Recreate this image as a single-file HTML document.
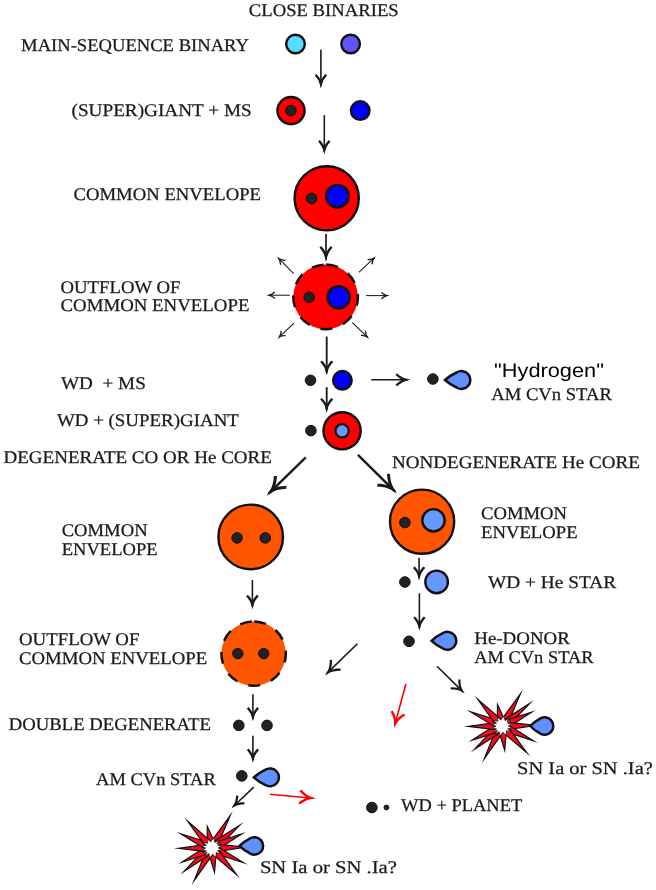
<!DOCTYPE html>
<html>
<head>
<meta charset="utf-8">
<title>Close Binaries</title>
<style>
html,body{margin:0;padding:0;background:#ffffff;}
body{width:656px;height:890px;overflow:hidden;font-family:"Liberation Serif",serif;}
svg{display:block;}
.t{font-family:"Liberation Serif",serif;font-size:17.8px;fill:#1a1a1a;stroke:#1a1a1a;stroke-width:0.25;text-rendering:geometricPrecision;}
.ts{font-family:"Liberation Sans",sans-serif;font-size:19.6px;fill:#000;text-rendering:geometricPrecision;}
.ar{stroke:#1a1a1a;fill:none;}
.ar .hd,.ars .hd{fill:#1a1a1a;stroke:none;}
.arr .hd{fill:#ff0000;stroke:none;}
.ars{stroke:#1a1a1a;fill:none;}
.arr{stroke:#ff0000;fill:none;}
.dot{fill:#222222;stroke:#111111;stroke-width:1;}
.k{stroke:#111111;stroke-width:2.4;}
</style>
</head>
<body>
<svg width="656" height="890" viewBox="0 0 656 890">
<rect width="656" height="890" fill="#ffffff"/>

<!-- TEXT -->
<g class="t" style="filter:grayscale(1)">
<text x="248.8" y="15.8" textLength="149.9" lengthAdjust="spacingAndGlyphs">CLOSE BINARIES</text>
<text x="21.1" y="51.2" textLength="227.8" lengthAdjust="spacingAndGlyphs">MAIN-SEQUENCE BINARY</text>
<text x="71.5" y="116.1" textLength="180.2" lengthAdjust="spacingAndGlyphs">(SUPER)GIANT + MS</text>
<text x="73.5" y="200.3" textLength="187.5" lengthAdjust="spacingAndGlyphs">COMMON ENVELOPE</text>
<text x="60.5" y="292.8" textLength="119.9" lengthAdjust="spacingAndGlyphs">OUTFLOW OF</text>
<text x="60.5" y="311.4" textLength="188.9" lengthAdjust="spacingAndGlyphs">COMMON ENVELOPE</text>
<text x="61.0" y="388.7" textLength="84.8" lengthAdjust="spacingAndGlyphs" xml:space="preserve">WD  + MS</text>
<text x="56.9" y="426.3" textLength="182.0" lengthAdjust="spacingAndGlyphs">WD + (SUPER)GIANT</text>
<text x="3.5" y="463.4" textLength="268.4" lengthAdjust="spacingAndGlyphs">DEGENERATE CO OR He CORE</text>
<text x="491.3" y="399.7" textLength="120.5" lengthAdjust="spacingAndGlyphs">AM CVn STAR</text>
<text x="392.0" y="468.4" textLength="247.8" lengthAdjust="spacingAndGlyphs">NONDEGENERATE He CORE</text>
<text x="61.7" y="535.8" textLength="85.9" lengthAdjust="spacingAndGlyphs">COMMON</text>
<text x="61.7" y="555" textLength="95.9" lengthAdjust="spacingAndGlyphs">ENVELOPE</text>
<text x="19.0" y="645.2" textLength="120.4" lengthAdjust="spacingAndGlyphs">OUTFLOW OF</text>
<text x="19.0" y="664.1" textLength="188.2" lengthAdjust="spacingAndGlyphs">COMMON ENVELOPE</text>
<text x="481.0" y="519" textLength="86.0" lengthAdjust="spacingAndGlyphs">COMMON</text>
<text x="481.0" y="537.9" textLength="96.6" lengthAdjust="spacingAndGlyphs">ENVELOPE</text>
<text x="488.0" y="587.6" textLength="128.1" lengthAdjust="spacingAndGlyphs">WD + He STAR</text>
<text x="474.3" y="644.0" textLength="95.5" lengthAdjust="spacingAndGlyphs">He-DONOR</text>
<text x="474.3" y="662.9" textLength="119.2" lengthAdjust="spacingAndGlyphs">AM CVn STAR</text>
<text x="8.8" y="729.7" textLength="202.1" lengthAdjust="spacingAndGlyphs">DOUBLE DEGENERATE</text>
<text x="96.1" y="784.6" textLength="119.7" lengthAdjust="spacingAndGlyphs">AM CVn STAR</text>
<text x="517.1" y="773.5" textLength="135.7" lengthAdjust="spacingAndGlyphs">SN Ia or SN .Ia?</text>
<text x="401.0" y="811.3" textLength="121.3" lengthAdjust="spacingAndGlyphs">WD + PLANET</text>
<text x="259.9" y="872.5" textLength="137.0" lengthAdjust="spacingAndGlyphs">SN Ia or SN .Ia?</text>
</g>
<text class="ts" style="filter:grayscale(1)" x="494.1" y="376.9" textLength="109.8" lengthAdjust="spacingAndGlyphs">"Hydrogen"</text>

<!-- SHAPES -->
<!-- row 1 -->
<circle cx="295.5" cy="44" r="9.3" fill="#55ddff" class="k"/>
<circle cx="350.6" cy="44" r="9.3" fill="#5f55ff" class="k"/>
<!-- row 2 -->
<circle cx="291" cy="110.6" r="13.6" fill="#ff0000" class="k"/>
<circle cx="291" cy="110.6" r="5.3" class="dot"/>
<circle cx="360.2" cy="110.6" r="9.3" fill="#0000ff" class="k"/>
<!-- common envelope -->
<circle cx="326.7" cy="198.3" r="32.1" fill="#ff0000" class="k"/>
<circle cx="311.6" cy="198.4" r="5.3" class="dot"/>
<circle cx="337.4" cy="196.2" r="11.3" fill="#0000ff" class="k"/>
<!-- outflow -->
<circle cx="325.6" cy="296.9" r="32.3" fill="#ff0000" stroke="#111" stroke-width="2.5" stroke-dasharray="12 11.5" transform="rotate(-89 325.6 296.9)"/>
<circle cx="309.1" cy="297.2" r="5.3" class="dot"/>
<circle cx="338.6" cy="297.2" r="11.1" fill="#0000ff" class="k"/>
<!-- WD + MS -->
<circle cx="310.5" cy="380.3" r="5.3" class="dot"/>
<circle cx="342.4" cy="380.3" r="9.3" fill="#0000ff" class="k"/>
<circle cx="432.9" cy="379" r="5.3" class="dot"/>
<!-- WD + supergiant -->
<circle cx="310.9" cy="430.6" r="5.3" class="dot"/>
<circle cx="342.1" cy="430.8" r="18.6" fill="#ff0000" class="k"/>
<circle cx="342.1" cy="430.8" r="6.6" fill="#6699ff" stroke="#111" stroke-width="2.2"/>
<!-- orange left -->
<circle cx="250.7" cy="536.9" r="32.3" fill="#ff5500" class="k"/>
<circle cx="237.1" cy="537.9" r="5.3" class="dot"/>
<circle cx="265.3" cy="537.9" r="5.3" class="dot"/>
<!-- orange right -->
<circle cx="422.1" cy="521.7" r="32.1" fill="#ff5500" class="k"/>
<circle cx="404.9" cy="522.6" r="5.3" class="dot"/>
<circle cx="433.5" cy="520.3" r="11.2" fill="#6699ff" class="k"/>
<!-- WD + He star -->
<circle cx="404.9" cy="582" r="5.3" class="dot"/>
<circle cx="436.6" cy="581.9" r="11.3" fill="#6699ff" class="k"/>
<!-- dashed orange -->
<circle cx="253.6" cy="653.6" r="32.2" fill="#ff5500" stroke="#111" stroke-width="2.5" stroke-dasharray="12 11.45" transform="rotate(-89 253.6 653.6)"/>
<circle cx="237.8" cy="653.6" r="5.2" class="dot"/>
<circle cx="263.7" cy="653.6" r="5.2" class="dot"/>
<!-- He donor -->
<circle cx="409" cy="641.3" r="5.3" class="dot"/>
<!-- double degenerate -->
<circle cx="238.8" cy="725.4" r="5.3" class="dot"/>
<circle cx="267" cy="725.4" r="5.3" class="dot"/>
<!-- AM CVn -->
<circle cx="241.8" cy="775.9" r="5.3" class="dot"/>
<!-- WD + planet -->
<circle cx="371.9" cy="807.5" r="5.3" class="dot"/>
<circle cx="386.4" cy="807.5" r="2.4" class="dot"/>

<!-- GEN START -->
<!-- ARROWS -->
<g class="ar" transform="translate(320.9,49.7) rotate(90.00)"><path stroke-width="1.6" d="M0,0H36.0"/><polygon class="hd" points="38.5,0.0 37.1,-0.2 35.8,-0.5 34.5,-0.9 33.2,-1.4 31.9,-2.0 30.6,-2.6 29.4,-3.4 28.2,-4.2 27.0,-5.2 25.9,-6.2 24.3,-4.5 25.5,-3.4 26.8,-2.4 28.1,-1.4 29.5,-0.6 30.8,0.0 32.3,0.0 33.7,0.0 35.2,0.0 36.7,0.0 38.2,0.0"/><polygon class="hd" points="38.5,-0.0 37.1,0.2 35.8,0.5 34.5,0.9 33.2,1.4 31.9,2.0 30.6,2.6 29.4,3.4 28.2,4.2 27.0,5.2 25.9,6.2 24.3,4.5 25.5,3.4 26.8,2.4 28.1,1.4 29.5,0.6 30.8,-0.0 32.3,-0.0 33.7,-0.0 35.2,-0.0 36.7,-0.0 38.2,-0.0"/><polygon class="hd" points="38.5,0 32.2,-1.69 30.7,0 32.2,1.69"/></g>
<g class="ar" transform="translate(324.3,115.2) rotate(90.00)"><path stroke-width="1.6" d="M0,0H36.6"/><polygon class="hd" points="39.1,0.0 37.7,-0.2 36.4,-0.5 35.1,-0.9 33.8,-1.4 32.5,-2.0 31.2,-2.6 30.0,-3.4 28.8,-4.2 27.6,-5.2 26.5,-6.2 24.9,-4.5 26.1,-3.4 27.4,-2.4 28.7,-1.4 30.1,-0.6 31.4,0.0 32.9,0.0 34.3,0.0 35.8,0.0 37.3,0.0 38.8,0.0"/><polygon class="hd" points="39.1,-0.0 37.7,0.2 36.4,0.5 35.1,0.9 33.8,1.4 32.5,2.0 31.2,2.6 30.0,3.4 28.8,4.2 27.6,5.2 26.5,6.2 24.9,4.5 26.1,3.4 27.4,2.4 28.7,1.4 30.1,0.6 31.4,-0.0 32.9,-0.0 34.3,-0.0 35.8,-0.0 37.3,-0.0 38.8,-0.0"/><polygon class="hd" points="39.1,0 32.8,-1.69 31.3,0 32.8,1.69"/></g>
<g class="ar" transform="translate(326.0,233.9) rotate(90.00)"><path stroke-width="1.7" d="M0,0H25.3"/><polygon class="hd" points="27.8,0.0 26.3,-0.2 24.8,-0.5 23.3,-0.9 21.8,-1.5 20.4,-2.1 19.0,-2.8 17.6,-3.6 16.3,-4.4 15.0,-5.4 13.7,-6.5 12.1,-4.7 13.5,-3.6 14.9,-2.5 16.4,-1.5 17.9,-0.6 19.4,0.0 21.0,0.0 22.6,0.0 24.2,0.0 25.8,0.0 27.5,0.0"/><polygon class="hd" points="27.8,-0.0 26.3,0.2 24.8,0.5 23.3,0.9 21.8,1.5 20.4,2.1 19.0,2.8 17.6,3.6 16.3,4.4 15.0,5.4 13.7,6.5 12.1,4.7 13.5,3.6 14.9,2.5 16.4,1.5 17.9,0.6 19.4,-0.0 21.0,-0.0 22.6,-0.0 24.2,-0.0 25.8,-0.0 27.5,-0.0"/><polygon class="hd" points="27.8,0 20.7,-1.73 19.1,0 20.7,1.73"/></g>
<g class="ar" transform="translate(326.7,336.6) rotate(90.00)"><path stroke-width="1.85" d="M0,0H36.2"/><polygon class="hd" points="38.7,0.0 37.3,-0.2 35.8,-0.5 34.5,-0.9 33.1,-1.4 31.8,-2.0 30.5,-2.7 29.2,-3.5 27.9,-4.4 26.7,-5.4 25.5,-6.5 23.9,-4.8 25.2,-3.6 26.5,-2.5 27.9,-1.6 29.3,-0.7 30.7,0.0 32.2,0.0 33.7,0.0 35.3,0.0 36.8,0.0 38.4,0.0"/><polygon class="hd" points="38.7,-0.0 37.3,0.2 35.8,0.5 34.5,0.9 33.1,1.4 31.8,2.0 30.5,2.7 29.2,3.5 27.9,4.4 26.7,5.4 25.5,6.5 23.9,4.8 25.2,3.6 26.5,2.5 27.9,1.6 29.3,0.7 30.7,-0.0 32.2,-0.0 33.7,-0.0 35.3,-0.0 36.8,-0.0 38.4,-0.0"/><polygon class="hd" points="38.7,0 32.1,-1.69 30.5,0 32.1,1.69"/></g>
<g class="ar" transform="translate(326.7,387.1) rotate(90.00)"><path stroke-width="1.85" d="M0,0H23.1"/><polygon class="hd" points="25.6,0.0 24.2,-0.2 22.8,-0.5 21.4,-0.9 20.0,-1.4 18.7,-2.0 17.4,-2.7 16.2,-3.5 14.9,-4.4 13.7,-5.4 12.5,-6.5 10.9,-4.8 12.2,-3.6 13.5,-2.5 14.9,-1.6 16.2,-0.7 17.7,0.0 19.1,0.0 20.6,0.0 22.2,0.0 23.7,0.0 25.3,0.0"/><polygon class="hd" points="25.6,-0.0 24.2,0.2 22.8,0.5 21.4,0.9 20.0,1.4 18.7,2.0 17.4,2.7 16.2,3.5 14.9,4.4 13.7,5.4 12.5,6.5 10.9,4.8 12.2,3.6 13.5,2.5 14.9,1.6 16.2,0.7 17.7,-0.0 19.1,-0.0 20.6,-0.0 22.2,-0.0 23.7,-0.0 25.3,-0.0"/><polygon class="hd" points="25.6,0 19.0,-1.69 17.5,0 19.0,1.69"/></g>
<g class="ar" transform="translate(305.8,457.3) rotate(135.62)"><path stroke-width="2.4" d="M0,0H52.0"/><polygon class="hd" points="54.5,0.0 52.4,-0.3 50.5,-0.7 48.5,-1.3 46.6,-2.0 44.7,-2.8 42.9,-3.8 41.1,-4.9 39.3,-6.1 37.6,-7.5 35.9,-9.0 33.8,-6.8 35.6,-5.2 37.5,-3.7 39.4,-2.4 41.4,-1.2 43.4,-0.1 45.5,0.0 47.6,0.0 49.7,0.0 51.9,0.0 54.1,0.0"/><polygon class="hd" points="54.5,-0.0 52.4,0.3 50.5,0.7 48.5,1.3 46.6,2.0 44.7,2.8 42.9,3.8 41.1,4.9 39.3,6.1 37.6,7.5 35.9,9.0 33.8,6.8 35.6,5.2 37.5,3.7 39.4,2.4 41.4,1.2 43.4,0.1 45.5,-0.0 47.6,-0.0 49.7,-0.0 51.9,-0.0 54.1,-0.0"/><polygon class="hd" points="54.5,0 45.2,-2.16 42.9,0 45.2,2.16"/></g>
<g class="ar" transform="translate(357.9,454.8) rotate(44.62)"><path stroke-width="2.4" d="M0,0H52.3"/><polygon class="hd" points="54.8,0.0 52.8,-0.3 50.8,-0.7 48.9,-1.3 46.9,-2.0 45.1,-2.8 43.2,-3.8 41.4,-4.9 39.6,-6.1 37.9,-7.5 36.2,-9.0 34.2,-6.8 36.0,-5.2 37.9,-3.7 39.8,-2.4 41.7,-1.2 43.8,-0.1 45.8,0.0 47.9,0.0 50.1,0.0 52.3,0.0 54.5,0.0"/><polygon class="hd" points="54.8,-0.0 52.8,0.3 50.8,0.7 48.9,1.3 46.9,2.0 45.1,2.8 43.2,3.8 41.4,4.9 39.6,6.1 37.9,7.5 36.2,9.0 34.2,6.8 36.0,5.2 37.9,3.7 39.8,2.4 41.7,1.2 43.8,0.1 45.8,-0.0 47.9,-0.0 50.1,-0.0 52.3,-0.0 54.5,-0.0"/><polygon class="hd" points="54.8,0 45.5,-2.16 43.3,0 45.5,2.16"/></g>
<g class="ar" transform="translate(419.1,557.8) rotate(90.00)"><path stroke-width="1.6" d="M0,0H19.9"/><polygon class="hd" points="22.4,0.0 21.1,-0.2 19.8,-0.5 18.5,-0.9 17.2,-1.4 16.0,-2.0 14.8,-2.6 13.6,-3.4 12.4,-4.2 11.3,-5.2 10.2,-6.2 8.6,-4.5 9.8,-3.4 11.0,-2.4 12.3,-1.4 13.6,-0.6 14.9,0.0 16.3,0.0 17.7,0.0 19.2,0.0 20.6,0.0 22.1,0.0"/><polygon class="hd" points="22.4,-0.0 21.1,0.2 19.8,0.5 18.5,0.9 17.2,1.4 16.0,2.0 14.8,2.6 13.6,3.4 12.4,4.2 11.3,5.2 10.2,6.2 8.6,4.5 9.8,3.4 11.0,2.4 12.3,1.4 13.6,0.6 14.9,-0.0 16.3,-0.0 17.7,-0.0 19.2,-0.0 20.6,-0.0 22.1,-0.0"/><polygon class="hd" points="22.4,0 16.3,-1.69 14.8,0 16.3,1.69"/></g>
<g class="ar" transform="translate(252.4,580.1) rotate(90.00)"><path stroke-width="1.6" d="M0,0H26.6"/><polygon class="hd" points="29.1,0.0 27.7,-0.2 26.3,-0.5 25.0,-0.9 23.6,-1.4 22.3,-2.0 21.1,-2.6 19.8,-3.4 18.6,-4.3 17.4,-5.2 16.2,-6.3 14.6,-4.5 15.9,-3.4 17.2,-2.4 18.5,-1.4 19.9,-0.6 21.3,0.0 22.7,0.0 24.2,0.0 25.7,0.0 27.3,0.0 28.8,0.0"/><polygon class="hd" points="29.1,-0.0 27.7,0.2 26.3,0.5 25.0,0.9 23.6,1.4 22.3,2.0 21.1,2.6 19.8,3.4 18.6,4.3 17.4,5.2 16.2,6.3 14.6,4.5 15.9,3.4 17.2,2.4 18.5,1.4 19.9,0.6 21.3,-0.0 22.7,-0.0 24.2,-0.0 25.7,-0.0 27.3,-0.0 28.8,-0.0"/><polygon class="hd" points="29.1,0 22.7,-1.69 21.1,0 22.7,1.69"/></g>
<g class="ar" transform="translate(419.4,593.3) rotate(90.00)"><path stroke-width="1.6" d="M0,0H34.8"/><polygon class="hd" points="37.3,0.0 35.9,-0.2 34.6,-0.5 33.3,-0.9 32.0,-1.4 30.7,-2.0 29.4,-2.6 28.2,-3.4 27.0,-4.2 25.8,-5.2 24.7,-6.2 23.1,-4.5 24.3,-3.4 25.6,-2.4 26.9,-1.4 28.3,-0.6 29.6,0.0 31.1,0.0 32.5,0.0 34.0,0.0 35.5,0.0 37.0,0.0"/><polygon class="hd" points="37.3,-0.0 35.9,0.2 34.6,0.5 33.3,0.9 32.0,1.4 30.7,2.0 29.4,2.6 28.2,3.4 27.0,4.2 25.8,5.2 24.7,6.2 23.1,4.5 24.3,3.4 25.6,2.4 26.9,1.4 28.3,0.6 29.6,-0.0 31.1,-0.0 32.5,-0.0 34.0,-0.0 35.5,-0.0 37.0,-0.0"/><polygon class="hd" points="37.3,0 31.0,-1.69 29.5,0 31.0,1.69"/></g>
<g class="ar" transform="translate(252.9,694.3) rotate(90.00)"><path stroke-width="1.6" d="M0,0H24.3"/><polygon class="hd" points="26.8,0.0 25.4,-0.2 24.1,-0.5 22.8,-0.9 21.5,-1.4 20.3,-1.9 19.1,-2.6 17.9,-3.3 16.7,-4.2 15.5,-5.1 14.4,-6.1 12.8,-4.4 14.0,-3.3 15.3,-2.3 16.6,-1.4 17.9,-0.5 19.3,0.0 20.6,0.0 22.1,0.0 23.5,0.0 25.0,0.0 26.5,0.0"/><polygon class="hd" points="26.8,-0.0 25.4,0.2 24.1,0.5 22.8,0.9 21.5,1.4 20.3,1.9 19.1,2.6 17.9,3.3 16.7,4.2 15.5,5.1 14.4,6.1 12.8,4.4 14.0,3.3 15.3,2.3 16.6,1.4 17.9,0.5 19.3,-0.0 20.6,-0.0 22.1,-0.0 23.5,-0.0 25.0,-0.0 26.5,-0.0"/><polygon class="hd" points="26.8,0 20.6,-1.69 19.1,0 20.6,1.69"/></g>
<g class="ar" transform="translate(357.4,643.7) rotate(135.73)"><path stroke-width="1.6" d="M0,0H42.6"/><polygon class="hd" points="45.1,0.0 43.5,-0.3 42.0,-0.6 40.6,-1.1 39.1,-1.7 37.7,-2.4 36.3,-3.3 35.0,-4.2 33.6,-5.3 32.3,-6.4 31.1,-7.7 29.4,-6.1 30.7,-4.8 32.1,-3.5 33.6,-2.3 35.1,-1.3 36.6,-0.4 38.2,0.0 39.8,0.0 41.4,0.0 43.1,0.0 44.8,0.0"/><polygon class="hd" points="45.1,-0.0 43.5,0.3 42.0,0.6 40.6,1.1 39.1,1.7 37.7,2.4 36.3,3.3 35.0,4.2 33.6,5.3 32.3,6.4 31.1,7.7 29.4,6.1 30.7,4.8 32.1,3.5 33.6,2.3 35.1,1.3 36.6,0.4 38.2,-0.0 39.8,-0.0 41.4,-0.0 43.1,-0.0 44.8,-0.0"/><polygon class="hd" points="45.1,0 38.1,-1.66 36.4,0 38.1,1.66"/></g>
<g class="ar" transform="translate(437.0,666.3) rotate(44.47)"><path stroke-width="1.6" d="M0,0H36.1"/><polygon class="hd" points="38.6,0.0 37.3,-0.2 35.9,-0.6 34.6,-1.0 33.3,-1.5 32.1,-2.2 30.8,-2.9 29.6,-3.8 28.4,-4.7 27.3,-5.8 26.1,-7.0 24.5,-5.5 25.7,-4.2 27.0,-3.1 28.3,-2.0 29.6,-1.1 31.0,-0.3 32.4,0.0 33.8,0.0 35.3,0.0 36.8,0.0 38.3,0.0"/><polygon class="hd" points="38.6,-0.0 37.3,0.2 35.9,0.6 34.6,1.0 33.3,1.5 32.1,2.2 30.8,2.9 29.6,3.8 28.4,4.7 27.3,5.8 26.1,7.0 24.5,5.5 25.7,4.2 27.0,3.1 28.3,2.0 29.6,1.1 31.0,0.3 32.4,-0.0 33.8,-0.0 35.3,-0.0 36.8,-0.0 38.3,-0.0"/><polygon class="hd" points="38.6,0 32.4,-1.58 30.9,0 32.4,1.58"/></g>
<g class="arr" transform="translate(405.9,683.9) rotate(105.12)"><path stroke-width="1.6" d="M0,0H42.9"/><polygon class="hd" points="45.4,0.0 43.8,-0.3 42.2,-0.6 40.7,-1.1 39.2,-1.7 37.7,-2.4 36.3,-3.2 34.9,-4.1 33.5,-5.1 32.2,-6.2 30.9,-7.5 29.2,-5.8 30.6,-4.5 32.0,-3.2 33.5,-2.1 35.1,-1.1 36.6,-0.2 38.3,0.0 39.9,0.0 41.6,0.0 43.3,0.0 45.1,0.0"/><polygon class="hd" points="45.4,-0.0 43.8,0.3 42.2,0.6 40.7,1.1 39.2,1.7 37.7,2.4 36.3,3.2 34.9,4.1 33.5,5.1 32.2,6.2 30.9,7.5 29.2,5.8 30.6,4.5 32.0,3.2 33.5,2.1 35.1,1.1 36.6,0.2 38.3,-0.0 39.9,-0.0 41.6,-0.0 43.3,-0.0 45.1,-0.0"/><polygon class="hd" points="45.4,0 38.1,-1.73 36.4,0 38.1,1.73"/></g>
<g class="ar" transform="translate(252.9,735.8) rotate(90.00)"><path stroke-width="1.6" d="M0,0H24.3"/><polygon class="hd" points="26.8,0.0 25.4,-0.2 24.1,-0.5 22.8,-0.9 21.5,-1.4 20.3,-1.9 19.1,-2.6 17.9,-3.3 16.7,-4.2 15.5,-5.1 14.4,-6.1 12.8,-4.4 14.0,-3.3 15.3,-2.3 16.6,-1.4 17.9,-0.5 19.3,0.0 20.6,0.0 22.1,0.0 23.5,0.0 25.0,0.0 26.5,0.0"/><polygon class="hd" points="26.8,-0.0 25.4,0.2 24.1,0.5 22.8,0.9 21.5,1.4 20.3,1.9 19.1,2.6 17.9,3.3 16.7,4.2 15.5,5.1 14.4,6.1 12.8,4.4 14.0,3.3 15.3,2.3 16.6,1.4 17.9,0.5 19.3,-0.0 20.6,-0.0 22.1,-0.0 23.5,-0.0 25.0,-0.0 26.5,-0.0"/><polygon class="hd" points="26.8,0 20.6,-1.69 19.1,0 20.6,1.69"/></g>
<g class="ar" transform="translate(253.8,787.1) rotate(136.48)"><path stroke-width="1.6" d="M0,0H28.2"/><polygon class="hd" points="30.7,0.0 29.4,-0.2 28.1,-0.5 26.9,-0.9 25.6,-1.4 24.4,-1.9 23.2,-2.6 22.1,-3.3 20.9,-4.2 19.8,-5.1 18.7,-6.1 17.2,-4.5 18.3,-3.4 19.6,-2.4 20.8,-1.5 22.1,-0.7 23.4,0.0 24.8,0.0 26.1,0.0 27.5,0.0 29.0,0.0 30.4,0.0"/><polygon class="hd" points="30.7,-0.0 29.4,0.2 28.1,0.5 26.9,0.9 25.6,1.4 24.4,1.9 23.2,2.6 22.1,3.3 20.9,4.2 19.8,5.1 18.7,6.1 17.2,4.5 18.3,3.4 19.6,2.4 20.8,1.5 22.1,0.7 23.4,-0.0 24.8,-0.0 26.1,-0.0 27.5,-0.0 29.0,-0.0 30.4,-0.0"/><polygon class="hd" points="30.7,0 24.7,-1.58 23.3,0 24.7,1.58"/></g>
<g class="arr" transform="translate(269.8,794.2) rotate(5.30)"><path stroke-width="1.6" d="M0,0H43.5"/><polygon class="hd" points="46.0,0.0 44.4,-0.3 42.8,-0.6 41.2,-1.1 39.6,-1.7 38.1,-2.4 36.6,-3.2 35.2,-4.1 33.8,-5.1 32.4,-6.2 31.0,-7.5 29.3,-5.8 30.8,-4.4 32.3,-3.2 33.8,-2.1 35.4,-1.1 37.0,-0.2 38.7,0.0 40.4,0.0 42.1,0.0 43.9,0.0 45.7,0.0"/><polygon class="hd" points="46.0,-0.0 44.4,0.3 42.8,0.6 41.2,1.1 39.6,1.7 38.1,2.4 36.6,3.2 35.2,4.1 33.8,5.1 32.4,6.2 31.0,7.5 29.3,5.8 30.8,4.4 32.3,3.2 33.8,2.1 35.4,1.1 37.0,0.2 38.7,-0.0 40.4,-0.0 42.1,-0.0 43.9,-0.0 45.7,-0.0"/><polygon class="hd" points="46.0,0 38.5,-1.73 36.7,0 38.5,1.73"/></g>
<g class="ar" transform="translate(371.3,379.8) rotate(0.00)"><path stroke-width="1.6" d="M0,0H36.5"/><polygon class="hd" points="39.0,0.0 37.6,-0.2 36.1,-0.5 34.8,-0.9 33.4,-1.5 32.1,-2.1 30.8,-2.8 29.5,-3.6 28.2,-4.4 27.0,-5.4 25.8,-6.5 24.2,-4.8 25.5,-3.7 26.8,-2.6 28.2,-1.6 29.6,-0.7 31.0,0.0 32.5,0.0 34.0,0.0 35.6,0.0 37.1,0.0 38.7,0.0"/><polygon class="hd" points="39.0,-0.0 37.6,0.2 36.1,0.5 34.8,0.9 33.4,1.5 32.1,2.1 30.8,2.8 29.5,3.6 28.2,4.4 27.0,5.4 25.8,6.5 24.2,4.8 25.5,3.7 26.8,2.6 28.2,1.6 29.6,0.7 31.0,-0.0 32.5,-0.0 34.0,-0.0 35.6,-0.0 37.1,-0.0 38.7,-0.0"/><polygon class="hd" points="39.0,0 32.4,-1.69 30.8,0 32.4,1.69"/></g>
<g class="ars" transform="translate(293.7,273.7) rotate(-134.47)"><path stroke-width="1.05" d="M0,0H21.1"/><polygon class="hd" points="23.6,0.0 22.8,-0.1 22.0,-0.3 21.2,-0.5 20.4,-0.8 19.7,-1.2 18.9,-1.6 18.2,-2.0 17.4,-2.6 16.7,-3.1 16.0,-3.7 15.1,-2.8 15.9,-2.1 16.7,-1.5 17.4,-1.0 18.2,-0.5 19.1,-0.0 19.9,0.0 20.8,0.0 21.7,0.0 22.6,0.0 23.5,0.0"/><polygon class="hd" points="23.6,-0.0 22.8,0.1 22.0,0.3 21.2,0.5 20.4,0.8 19.7,1.2 18.9,1.6 18.2,2.0 17.4,2.6 16.7,3.1 16.0,3.7 15.1,2.8 15.9,2.1 16.7,1.5 17.4,1.0 18.2,0.5 19.1,0.0 19.9,-0.0 20.8,-0.0 21.7,-0.0 22.6,-0.0 23.5,-0.0"/><polygon class="hd" points="23.6,0 19.8,-0.94 18.9,0 19.8,0.94"/></g>
<g class="ars" transform="translate(358.8,272.4) rotate(-43.20)"><path stroke-width="1.05" d="M0,0H20.8"/><polygon class="hd" points="23.3,0.0 22.5,-0.1 21.7,-0.3 20.9,-0.5 20.1,-0.8 19.3,-1.2 18.6,-1.6 17.8,-2.0 17.1,-2.6 16.4,-3.1 15.7,-3.7 14.8,-2.8 15.5,-2.1 16.3,-1.5 17.1,-1.0 17.9,-0.5 18.7,-0.0 19.6,0.0 20.4,0.0 21.3,0.0 22.2,0.0 23.1,0.0"/><polygon class="hd" points="23.3,-0.0 22.5,0.1 21.7,0.3 20.9,0.5 20.1,0.8 19.3,1.2 18.6,1.6 17.8,2.0 17.1,2.6 16.4,3.1 15.7,3.7 14.8,2.8 15.5,2.1 16.3,1.5 17.1,1.0 17.9,0.5 18.7,0.0 19.6,-0.0 20.4,-0.0 21.3,-0.0 22.2,-0.0 23.1,-0.0"/><polygon class="hd" points="23.3,0 19.5,-0.94 18.6,0 19.5,0.94"/></g>
<g class="ars" transform="translate(289.9,295.2) rotate(180.00)"><path stroke-width="1.05" d="M0,0H20.7"/><polygon class="hd" points="23.2,0.0 22.4,-0.1 21.6,-0.3 20.8,-0.5 20.0,-0.8 19.2,-1.2 18.5,-1.6 17.7,-2.0 17.0,-2.6 16.3,-3.1 15.6,-3.7 14.7,-2.8 15.4,-2.1 16.2,-1.5 17.0,-1.0 17.8,-0.5 18.6,-0.0 19.5,0.0 20.3,0.0 21.2,0.0 22.1,0.0 23.0,0.0"/><polygon class="hd" points="23.2,-0.0 22.4,0.1 21.6,0.3 20.8,0.5 20.0,0.8 19.2,1.2 18.5,1.6 17.7,2.0 17.0,2.6 16.3,3.1 15.6,3.7 14.7,2.8 15.4,2.1 16.2,1.5 17.0,1.0 17.8,0.5 18.6,0.0 19.5,-0.0 20.3,-0.0 21.2,-0.0 22.1,-0.0 23.0,-0.0"/><polygon class="hd" points="23.2,0 19.4,-0.94 18.5,0 19.4,0.94"/></g>
<g class="ars" transform="translate(366.1,295.6) rotate(0.00)"><path stroke-width="1.05" d="M0,0H20.9"/><polygon class="hd" points="23.4,0.0 22.6,-0.1 21.8,-0.3 21.0,-0.5 20.2,-0.8 19.4,-1.2 18.7,-1.6 17.9,-2.0 17.2,-2.6 16.5,-3.1 15.8,-3.7 14.9,-2.8 15.6,-2.1 16.4,-1.5 17.2,-1.0 18.0,-0.5 18.8,-0.0 19.7,0.0 20.5,0.0 21.4,0.0 22.3,0.0 23.2,0.0"/><polygon class="hd" points="23.4,-0.0 22.6,0.1 21.8,0.3 21.0,0.5 20.2,0.8 19.4,1.2 18.7,1.6 17.9,2.0 17.2,2.6 16.5,3.1 15.8,3.7 14.9,2.8 15.6,2.1 16.4,1.5 17.2,1.0 18.0,0.5 18.8,0.0 19.7,-0.0 20.5,-0.0 21.4,-0.0 22.3,-0.0 23.2,-0.0"/><polygon class="hd" points="23.4,0 19.6,-0.94 18.7,0 19.6,0.94"/></g>
<g class="ars" transform="translate(294.1,323.2) rotate(137.04)"><path stroke-width="1.05" d="M0,0H20.2"/><polygon class="hd" points="22.7,0.0 21.8,-0.1 21.0,-0.3 20.2,-0.5 19.4,-0.8 18.7,-1.2 17.9,-1.6 17.2,-2.0 16.5,-2.6 15.8,-3.1 15.1,-3.7 14.2,-2.8 14.9,-2.1 15.7,-1.5 16.5,-1.0 17.3,-0.5 18.1,-0.0 18.9,0.0 19.8,0.0 20.7,0.0 21.6,0.0 22.5,0.0"/><polygon class="hd" points="22.7,-0.0 21.8,0.1 21.0,0.3 20.2,0.5 19.4,0.8 18.7,1.2 17.9,1.6 17.2,2.0 16.5,2.6 15.8,3.1 15.1,3.7 14.2,2.8 14.9,2.1 15.7,1.5 16.5,1.0 17.3,0.5 18.1,0.0 18.9,-0.0 19.8,-0.0 20.7,-0.0 21.6,-0.0 22.5,-0.0"/><polygon class="hd" points="22.7,0 18.9,-0.94 18.0,0 18.9,0.94"/></g>
<g class="ars" transform="translate(352.2,322.3) rotate(44.28)"><path stroke-width="1.05" d="M0,0H20.9"/><polygon class="hd" points="23.4,0.0 22.6,-0.1 21.8,-0.3 21.0,-0.5 20.2,-0.8 19.4,-1.2 18.7,-1.6 17.9,-2.0 17.2,-2.6 16.5,-3.1 15.8,-3.7 14.9,-2.8 15.7,-2.1 16.4,-1.5 17.2,-1.0 18.0,-0.5 18.9,-0.0 19.7,0.0 20.6,0.0 21.5,0.0 22.4,0.0 23.3,0.0"/><polygon class="hd" points="23.4,-0.0 22.6,0.1 21.8,0.3 21.0,0.5 20.2,0.8 19.4,1.2 18.7,1.6 17.9,2.0 17.2,2.6 16.5,3.1 15.8,3.7 14.9,2.8 15.7,2.1 16.4,1.5 17.2,1.0 18.0,0.5 18.9,0.0 19.7,-0.0 20.6,-0.0 21.5,-0.0 22.4,-0.0 23.3,-0.0"/><polygon class="hd" points="23.4,0 19.6,-0.94 18.7,0 19.6,0.94"/></g>
<!-- TEARDROPS -->
<path d="M444.95,380.00Q450.29,375.35 456.53,372.49A8.95,8.95 0 1 1 456.53,387.51Q450.29,384.65 444.95,380.00Z" fill="#6090ff" stroke="#111111" stroke-width="2.5" stroke-linejoin="miter" stroke-miterlimit="10"/>
<path d="M431.55,640.80Q436.50,636.21 442.35,633.41A8.95,8.95 0 1 1 442.35,648.19Q436.50,645.39 431.55,640.80Z" fill="#6090ff" stroke="#111111" stroke-width="2.5" stroke-linejoin="miter" stroke-miterlimit="10"/>
<path d="M253.85,777.35Q259.00,772.73 265.04,769.90A8.95,8.95 0 1 1 265.04,784.80Q259.00,781.97 253.85,777.35Z" fill="#6090ff" stroke="#111111" stroke-width="2.5" stroke-linejoin="miter" stroke-miterlimit="10"/>
<!-- SUPERNOVAE -->
<g fill="#f20a1e" stroke="#111111" stroke-width="1.2" stroke-linejoin="miter" stroke-miterlimit="30"><polygon points="497.5,704.6 504.6,719.9 497.3,721.5"/><polygon points="520.4,693.7 508.0,723.1 501.6,719.5"/><polygon points="530.0,703.2 508.7,725.5 504.0,719.8"/><polygon points="531.9,712.1 508.7,727.1 505.5,720.4"/><polygon points="535.7,725.3 507.7,729.7 507.5,722.3"/><polygon points="533.7,740.9 505.5,731.8 508.7,725.1"/><polygon points="526.9,752.8 503.1,732.6 508.6,727.6"/><polygon points="504.7,750.2 499.0,732.0 506.4,731.2"/><polygon points="484.3,758.8 496.2,729.2 502.7,732.7"/><polygon points="474.4,749.3 495.5,726.8 500.3,732.5"/><polygon points="472.3,740.1 495.5,725.1 498.7,731.8"/><polygon points="468.5,726.4 496.6,722.5 496.6,729.8"/><polygon points="470.8,711.9 498.6,720.5 495.6,727.2"/><polygon points="477.7,699.1 501.2,719.5 495.7,724.5"/></g><polygon points="500.8,720.0 503.6,716.2 505.1,720.7 508.5,718.4 506.9,722.2 510.6,720.8 507.7,723.5 511.8,723.8 508.3,726.0 511.9,728.2 507.7,728.7 510.2,732.0 506.3,730.6 506.3,735.2 502.8,732.3 500.2,735.9 499.1,731.5 495.8,733.8 497.3,730.1 493.7,731.5 496.5,728.7 492.4,728.3 495.9,726.2 492.3,724.0 496.5,723.5 494.0,720.2 497.9,721.5 497.5,717.2" fill="#ffffff" stroke="#111111" stroke-width="0.6"/>
<path d="M530.25,726.00Q534.31,721.63 539.26,719.06A8.75,8.75 0 1 1 539.26,732.94Q534.31,730.37 530.25,726.00Z" fill="#6090ff" stroke="#111111" stroke-width="2.5" stroke-linejoin="miter" stroke-miterlimit="10"/>
<g fill="#f20a1e" stroke="#111111" stroke-width="1.2" stroke-linejoin="miter" stroke-miterlimit="30"><polygon points="207.3,826.5 214.4,841.8 207.1,843.4"/><polygon points="230.2,815.6 217.8,845.0 211.4,841.4"/><polygon points="239.8,825.1 218.5,847.4 213.8,841.7"/><polygon points="241.7,834.0 218.5,849.0 215.3,842.3"/><polygon points="245.5,847.2 217.5,851.6 217.3,844.2"/><polygon points="243.5,862.8 215.3,853.7 218.5,847.0"/><polygon points="236.7,874.7 212.9,854.5 218.4,849.5"/><polygon points="214.5,872.1 208.8,853.9 216.2,853.1"/><polygon points="194.1,880.7 206.0,851.1 212.5,854.6"/><polygon points="184.2,871.2 205.3,848.7 210.1,854.4"/><polygon points="182.1,862.0 205.3,847.0 208.5,853.7"/><polygon points="178.3,848.3 206.4,844.4 206.4,851.7"/><polygon points="180.6,833.8 208.4,842.4 205.4,849.1"/><polygon points="187.5,821.0 211.0,841.4 205.5,846.4"/></g><polygon points="210.6,841.9 213.4,838.1 214.9,842.6 218.3,840.3 216.7,844.1 220.4,842.7 217.5,845.4 221.6,845.7 218.1,847.9 221.7,850.1 217.5,850.6 220.0,853.9 216.1,852.5 216.1,857.1 212.6,854.2 210.0,857.8 208.9,853.4 205.6,855.7 207.1,852.0 203.5,853.4 206.3,850.6 202.2,850.2 205.7,848.1 202.1,845.9 206.3,845.4 203.8,842.1 207.7,843.4 207.3,839.1" fill="#ffffff" stroke="#111111" stroke-width="0.6"/>
<path d="M239.55,845.90Q243.95,841.47 249.24,838.83A8.75,8.75 0 1 1 249.24,852.97Q243.95,850.33 239.55,845.90Z" fill="#6090ff" stroke="#111111" stroke-width="2.5" stroke-linejoin="miter" stroke-miterlimit="10"/>
<!-- GEN END -->
</svg>
</body>
</html>
